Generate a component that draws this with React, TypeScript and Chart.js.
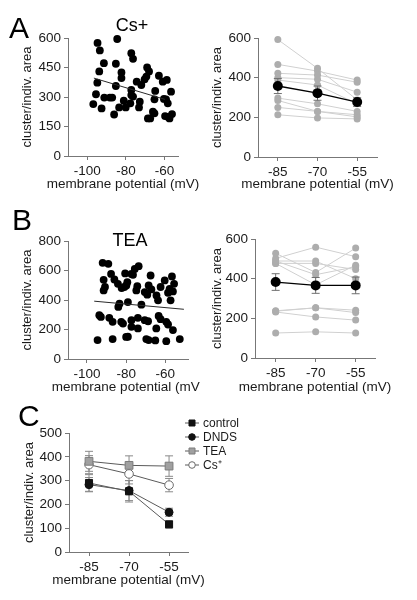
import React, { useEffect, useRef } from 'react';
import { Chart, registerables } from 'chart.js';

Chart.register(...registerables);

const FONT = "Arial, 'Liberation Sans', Helvetica, sans-serif";
const AXIS = '#777777';
const TEXT = '#1a1a1a';

// ---------------- Panel A (Cs+) scatter ----------------
const csScatterX = [-94.7, -93.5, -84.5, -91.4, -85.2, -93.8, -82.3, -77.2, -76.3, -82.3, -94.8, -85.2, -95.5, -96.9, -92.6, -91.2, -88.3, -87.1, -86.1, -83.5, -80.1, -81.1, -77.7, -77.2, -77.2, -76.3, -73.2, -72.8, -74.4, -72.0, -70.3, -69.4, -69.0, -68.0, -68.6, -67.4, -66.0, -65.2, -65.2, -64.8, -62.9, -60.9, -58.8, -59.2, -58.3, -59.7, -58.3, -57.4, -56.6, -56.1, -60.3];
const csScatterY = [575, 537, 595, 472, 469, 430, 425, 523, 494, 396, 373, 356, 314, 264, 242, 297, 297, 297, 211, 247, 247, 281, 268, 336, 310, 302, 247, 276, 378, 361, 390, 404, 450, 430, 191, 191, 225, 217, 288, 331, 408, 378, 387, 288, 268, 203, 199, 191, 327, 213, 290];
const csFitX = [-96.6, -59.8];
const csFitY = [396, 288];

// ---------------- Panel B (TEA) scatter ----------------
const teaScatterX = [-92.0, -89.1, -87.7, -91.5, -86.0, -90.8, -91.5, -84.2, -82.3, -80.9, -83.4, -84.0, -93.7, -92.9, -88.6, -86.9, -82.5, -81.6, -94.6, -86.9, -80.0, -80.5,
  -73.6, -75.6, -76.5, -77.3, -67.5, -79.4, -79.9, -74.3, -74.8, -68.5, -67.1, -70.5, -69.2, -64.5, -63.7, -62.4, -60.3, -56.6, -55.5, -57.8, -58.6, -56.1, -57.3, -79.1, -72.2, -77.3, -74.0, -70.5, -68.8, -63.4, -62.4, -59.5, -58.6, -56.1, -64.6, -74.0, -77.3, -79.1, -69.7, -68.5, -65.1, -59.5, -52.6];
const teaScatterY = [652, 645, 577, 537, 539, 488, 465, 510, 481, 488, 375, 353, 297, 285, 279, 252, 252, 240, 128, 135, 150, 580,
  629, 611, 571, 577, 566, 521, 499, 494, 465, 499, 472, 454, 436, 431, 398, 488, 533, 560, 510, 476, 449, 458, 398, 386, 368, 263, 279, 263, 256, 292, 270, 252, 234, 196, 207, 207, 218, 151, 135, 128, 126, 121, 135];
const teaFitX = [-96.3, -50.5];
const teaFitY = [392, 337];

// ---------------- Paired cells (right panels) ----------------
const voltages = [-85, -70, -55];
const csCells = [
  [592, 447, 288],
  [467, 433, 388],
  [422, 413, 377],
  [400, 392, 327],
  [388, 363, 268],
  [297, 268, 230],
  [285, 230, 213],
  [250, 230, 202],
  [213, 197, 192],
];
const csMean = [358, 322, 277];
const csSem = [38, 36, 22];

const teaCells = [
  [528, 431, 554],
  [502, 559, 511],
  [489, 489, 400],
  [477, 477, 446],
  [489, 420, 460],
  [477, 369, 468],
  [238, 253, 241],
  [232, 207, 191],
  [126, 132, 126],
  [236, 253, 229],
];
const teaMean = [383, 366, 366];
const teaSem = [42, 40, 42];

// ---------------- Panel C summary ----------------
const conditionLabels = ['control', 'DNDS', 'TEA', 'Cs\u207A'];
const controlMean = [290, 255, 116];
const controlSem = [35, 45, 15];
const dndsMean = [283, 258, 167];
const dndsSem = [30, 42, 17];
const teaSumMean = [381, 364, 361];
const teaSumSem = [42, 40, 43];
const csSumMean = [367, 328, 281];
const csSumSem = [38, 42, 28];

const scatterTicks = [-100, -80, -60];
const xAxisTitle = 'membrane potential (mV)';
const yAxisTitle = 'cluster/indiv. area';

type Geo = {
  left: number; top: number; width: number; height: number;
  yAxisW: number; xAxisH: number; padTop: number; padRight: number; yTitlePad: number;
};

// x-axis title drawn without Chart.js' maxWidth squeeze (the reference text overhangs the axis)
const xTitlePlugin = {
  id: 'xTitleFree',
  afterDraw(chart: any, _args: any, opts: any) {
    const xs = chart.scales.x;
    const { ctx } = chart;
    ctx.save();
    ctx.font = `${opts.size}px ${FONT}`;
    ctx.fillStyle = TEXT;
    ctx.textAlign = 'center';
    ctx.textBaseline = 'middle';
    ctx.fillText(opts.text, (xs.left + xs.right) / 2, xs.bottom - (opts.size * 1.2) / 2);
    ctx.restore();
  },
};

function makeOptions(g: Geo, xMin: number, xMax: number, xTicks: number[], yMax: number, yStep: number) {
  const tickFont = { family: FONT, size: 13.5 };
  const yTitleFont = { family: FONT, size: 13 };
  return {
    responsive: false,
    animation: false,
    events: [],
    layout: { padding: { top: g.padTop, right: g.padRight, left: 0, bottom: 0 } },
    plugins: {
      legend: { display: false },
      tooltip: { enabled: false },
      title: { display: false },
      xTitleFree: { text: xAxisTitle, size: 13.5 },
    },
    scales: {
      x: {
        type: 'linear',
        min: xMin,
        max: xMax,
        afterBuildTicks: (s: any) => { s.ticks = xTicks.map((v) => ({ value: v })); },
        afterFit: (s: any) => { s.height = g.xAxisH; },
        grid: { display: true, drawOnChartArea: false, drawTicks: true, tickLength: 4, color: AXIS, lineWidth: 1 },
        border: { display: true, color: AXIS, width: 1 },
        ticks: { color: TEXT, font: tickFont, padding: 3, maxRotation: 0, autoSkip: false },
        title: { display: false },
      },
      y: {
        type: 'linear',
        min: 0,
        max: yMax,
        afterFit: (s: any) => { s.width = g.yAxisW; },
        grid: { display: true, drawOnChartArea: false, drawTicks: true, tickLength: 4, color: AXIS, lineWidth: 1 },
        border: { display: true, color: AXIS, width: 1 },
        ticks: { color: TEXT, font: tickFont, padding: 3, stepSize: yStep, autoSkip: false },
        title: { display: true, text: yAxisTitle, color: TEXT, font: yTitleFont, padding: { top: g.yTitlePad, bottom: 0 } },
      },
    },
  };
}

function errorBars(xs: number[], means: number[], errs: number[], color: string, capR: number, order: number) {
  return xs.map((x, i) => ({
    data: [{ x, y: means[i] - errs[i] }, { x, y: means[i] + errs[i] }],
    showLine: true,
    borderColor: color,
    borderWidth: 1,
    pointStyle: 'line',
    pointRadius: capR,
    pointBorderColor: color,
    pointBackgroundColor: color,
    pointBorderWidth: 1,
    order,
    clip: false,
  }));
}

function scatterConfig(g: Geo, xs: number[], ys: number[], fx: number[], fy: number[], xMin: number, xMax: number, yMax: number, yStep: number) {
  return {
    type: 'scatter',
    data: {
      datasets: [
        {
          data: fx.map((x, i) => ({ x, y: fy[i] })),
          showLine: true, borderColor: '#2a2a2a', borderWidth: 1, pointRadius: 0, order: 0, clip: false,
        },
        {
          data: xs.map((x, i) => ({ x, y: ys[i] })),
          showLine: false, pointRadius: 3.9, pointBackgroundColor: '#000', pointBorderWidth: 0, order: 1, clip: false,
        },
      ],
    },
    options: makeOptions(g, xMin, xMax, scatterTicks, yMax, yStep),
    plugins: [xTitlePlugin],
  };
}

function pairedConfig(g: Geo, cells: number[][], mean: number[], sem: number[], xMin: number, xMax: number) {
  return {
    type: 'scatter',
    data: {
      datasets: [
        {
          data: voltages.map((x, i) => ({ x, y: mean[i] })),
          showLine: true, borderColor: '#000', borderWidth: 1.3, pointRadius: 5,
          pointBackgroundColor: '#000', pointBorderWidth: 0, order: 0, clip: false,
        },
        ...errorBars(voltages, mean, sem, '#6f6f6f', 4, 1),
        ...cells.map((c) => ({
          data: voltages.map((x, i) => ({ x, y: c[i] })),
          showLine: true, borderColor: '#d0d0d0', borderWidth: 1, pointRadius: 3.5,
          pointBackgroundColor: '#adadad', pointBorderWidth: 0, order: 2, clip: false,
        })),
      ],
    },
    options: makeOptions(g, xMin, xMax, voltages, 600, 200),
    plugins: [xTitlePlugin],
  };
}

const summaryLegend = {
  id: 'summaryLegend',
  afterDraw(chart: any) {
    const { ctx, chartArea } = chart;
    ctx.save();
    let k = 0;
    chart.data.datasets.forEach((ds: any) => {
      if (!ds.label) return;
      const y = chartArea.top - 10 + k * 14;
      const x0 = chartArea.right - 3;
      ctx.strokeStyle = ds.borderColor;
      ctx.lineWidth = 1;
      ctx.beginPath();
      ctx.moveTo(x0, y);
      ctx.lineTo(x0 + 14, y);
      ctx.stroke();
      const mx = x0 + 7;
      ctx.fillStyle = ds.pointBackgroundColor;
      ctx.strokeStyle = ds.pointBorderColor;
      ctx.beginPath();
      if (ds.pointStyle === 'rect') {
        ctx.rect(mx - 3, y - 3, 6, 6);
      } else {
        ctx.arc(mx, y, 3.3, 0, Math.PI * 2);
      }
      ctx.fill();
      ctx.stroke();
      ctx.fillStyle = TEXT;
      ctx.font = `12px ${FONT}`;
      ctx.textBaseline = 'middle';
      ctx.textAlign = 'left';
      ctx.fillText(ds.label, x0 + 18, y + 0.5);
      k++;
    });
    ctx.restore();
  },
};

function summaryConfig(g: Geo) {
  const series = [
    { label: conditionLabels[0], mean: controlMean, sem: controlSem, style: 'rect', r: 5, fill: '#111', border: '#111' },
    { label: conditionLabels[1], mean: dndsMean, sem: dndsSem, style: 'circle', r: 4, fill: '#111', border: '#111' },
    { label: conditionLabels[2], mean: teaSumMean, sem: teaSumSem, style: 'rect', r: 5.5, fill: '#a0a0a0', border: '#7c7c7c' },
    { label: conditionLabels[3], mean: csSumMean, sem: csSumSem, style: 'circle', r: 4.3, fill: '#ffffff', border: '#6a6a6a' },
  ];
  return {
    type: 'scatter',
    data: {
      datasets: [
        ...series.map((s) => ({
          label: s.label,
          data: voltages.map((x, i) => ({ x, y: s.mean[i] })),
          showLine: true, borderColor: '#5a5a5a', borderWidth: 1,
          pointStyle: s.style, pointRadius: s.r, pointBackgroundColor: s.fill,
          pointBorderColor: s.border, pointBorderWidth: 1, order: 0, clip: false,
        })),
        ...series.flatMap((s) => errorBars(voltages, s.mean, s.sem, '#8a8a8a', 4, 1)),
      ],
    },
    options: makeOptions(g, -92.5, -47.9, voltages, 500, 100),
    plugins: [summaryLegend, xTitlePlugin],
  };
}

function ChartBox({ geo, build }: { geo: Geo; build: () => any }) {
  const ref = useRef<HTMLCanvasElement>(null);
  useEffect(() => {
    const chart = new Chart(ref.current as HTMLCanvasElement, build());
    return () => chart.destroy();
  }, []);
  return (
    <canvas
      ref={ref}
      width={geo.width}
      height={geo.height}
      style={{ position: 'absolute', left: geo.left, top: geo.top, width: geo.width, height: geo.height }}
    />
  );
}

const geoA1: Geo = { left: 0, top: 24, width: 200, height: 168, yAxisW: 68, xAxisH: 36, padTop: 14, padRight: 22, yTitlePad: 20 };
const geoA2: Geo = { left: 200, top: 24, width: 217, height: 168, yAxisW: 58, xAxisH: 35, padTop: 14, padRight: 40, yTitlePad: 10 };
const geoB1: Geo = { left: 0, top: 227, width: 200, height: 168, yAxisW: 68, xAxisH: 36, padTop: 14, padRight: 12, yTitlePad: 20 };
const geoB2: Geo = { left: 200, top: 225, width: 217, height: 170, yAxisW: 55, xAxisH: 37, padTop: 14, padRight: 42, yTitlePad: 10 };
const geoC: Geo = { left: 0, top: 405, width: 300, height: 183, yAxisW: 69, xAxisH: 36, padTop: 28, padRight: 112, yTitlePad: 22 };

const letterStyle = (left: number, top: number): React.CSSProperties => ({
  position: 'absolute', left, top, fontSize: 30, lineHeight: '30px', fontFamily: FONT, color: '#000',
});
const titleStyle = (center: number, top: number): React.CSSProperties => ({
  position: 'absolute', left: center - 40, width: 80, top, textAlign: 'center', fontSize: 18, lineHeight: '18px', fontFamily: FONT, color: '#000',
});

export default function App() {
  return (
    <div style={{ position: 'absolute', left: 0, top: 0, width: 417, height: 600, background: '#fff', overflow: 'hidden' }}>
      <ChartBox geo={geoA1} build={() => scatterConfig(geoA1, csScatterX, csScatterY, csFitX, csFitY, -110, -53, 600, 150)} />
      <ChartBox geo={geoA2} build={() => pairedConfig(geoA2, csCells, csMean, csSem, -92.5, -47.5)} />
      <ChartBox geo={geoB1} build={() => scatterConfig(geoB1, teaScatterX, teaScatterY, teaFitX, teaFitY, -109.7, -48.4, 800, 200)} />
      <ChartBox geo={geoB2} build={() => pairedConfig(geoB2, teaCells, teaMean, teaSem, -92.75, -47.75)} />
      <ChartBox geo={geoC} build={() => summaryConfig(geoC)} />
      <div style={letterStyle(9, 13)}>A</div>
      <div style={letterStyle(12, 205)}>B</div>
      <div style={letterStyle(18, 401)}>C</div>
      <div style={titleStyle(132, 16)}>Cs+</div>
      <div style={titleStyle(130, 231)}>TEA</div>
    </div>
  );
}
